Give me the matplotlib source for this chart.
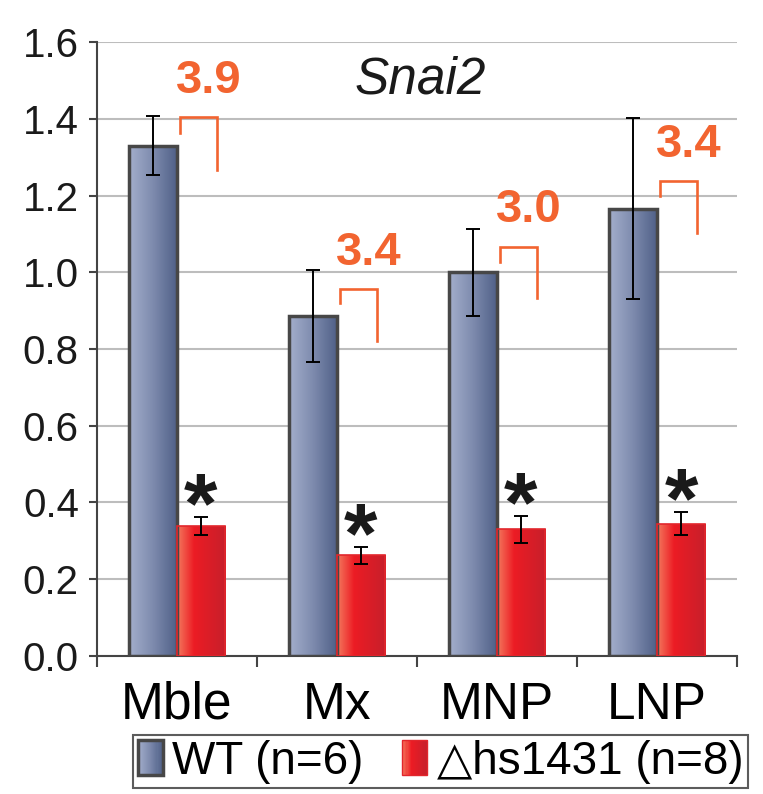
import numpy as np
import matplotlib
matplotlib.use("Agg")
import matplotlib.pyplot as plt
from matplotlib.colors import LinearSegmentedColormap
from matplotlib.patches import Patch, Rectangle
from matplotlib.legend_handler import HandlerBase

plt.rcParams['font.family'] = ['Liberation Sans', 'DejaVu Sans']

# Snai2 expression, WT vs deletion
categories = ['Mble', 'Mx', 'MNP', 'LNP']
wt_mean = [1.33, 0.885, 1.0, 1.165]
wt_err = [0.077, 0.12, 0.113, 0.236]
ko_mean = [0.338, 0.262, 0.33, 0.345]
ko_err = [0.024, 0.022, 0.035, 0.03]
fold_labels = ['3.9', '3.4', '3.0', '3.4']
bracket_top = [1.404, 0.956, 1.067, 1.237]
bracket_left_end = [1.363, 0.919, 1.028, 1.200]
bracket_right_end = [1.266, 0.821, 0.932, 1.103]
legend_labels = ['WT (n=6)', '\u25B3hs1431 (n=8)']

orange = '#F26430'
wt_cmap = LinearSegmentedColormap.from_list('wt', ['#A4AFCC', '#7D8AAD', '#4E5F86'])
ko_cmap = LinearSegmentedColormap.from_list('ko', [(0, '#F47A5E'), (0.35, '#EC1C24'), (1, '#C71F2B')])
wt_edge, ko_edge = '#474747', '#E2262C'

fig = plt.figure(figsize=(7.63, 7.94), dpi=100)
ax = fig.add_axes([0.127, 0.174, 0.839, 0.773])

x = np.arange(len(categories))
w = 0.3
wt_bars = ax.bar(x - w / 2, wt_mean, w, facecolor='none', edgecolor=wt_edge, linewidth=2.5, zorder=3)
ko_bars = ax.bar(x + w / 2, ko_mean, w, facecolor='none', edgecolor=ko_edge, linewidth=1.2, zorder=3)


def fill_gradient(bars, cmap):
    grad = np.linspace(0, 1, 256).reshape(1, -1)
    for b in bars:
        x0, y0 = b.get_x(), b.get_y()
        im = ax.imshow(grad, cmap=cmap, aspect='auto', interpolation='bicubic',
                       extent=(x0, x0 + b.get_width(), y0, y0 + b.get_height()), zorder=2.9)
        im.set_clip_path(b)


fill_gradient(wt_bars, wt_cmap)
fill_gradient(ko_bars, ko_cmap)

ax.errorbar(x - w / 2, wt_mean, yerr=wt_err, fmt='none', ecolor='black', elinewidth=1.4,
            capsize=5, capthick=1.4, zorder=4)
ax.errorbar(x + w / 2, ko_mean, yerr=ko_err, fmt='none', ecolor='black', elinewidth=1.4,
            capsize=5, capthick=1.4, zorder=4)

# significance stars above the deletion bars
for i in range(len(categories)):
    ax.annotate('*', (x[i] + w / 2, ko_mean[i] + ko_err[i]), xytext=(0, -24), textcoords='offset points',
                ha='center', va='bottom', fontsize=62, fontweight='bold', color='#1a1a1a', zorder=5)

# fold-change brackets
for i in range(len(categories)):
    xl, xr = x[i] + 0.02, x[i] + 0.25
    ax.plot([xl, xl, xr, xr], [bracket_left_end[i], bracket_top[i], bracket_top[i], bracket_right_end[i]],
            color=orange, lw=1.9, zorder=5, solid_joinstyle='miter')
    ax.text(x[i] + 0.2, bracket_top[i] + 0.095, fold_labels[i], ha='center', va='center',
            fontsize=34, fontweight='bold', color=orange, zorder=5)

ax.text(1.52, 1.5, 'Snai2', ha='center', va='center', fontsize=37, style='italic', color='#1a1a1a')

ax.set_xlim(-0.5, 3.5)
ax.set_ylim(0, 1.6)
ax.set_yticks(np.arange(0, 1.61, 0.2))
ax.set_yticklabels(['%.1f' % v for v in np.arange(0, 1.61, 0.2)])
ax.set_xticks(x)
ax.set_xticklabels(categories)
ax.set_xticks(np.arange(-0.5, 3.6, 1), minor=True)
ax.tick_params(axis='y', direction='out', length=6, width=1.5, color='#444444', labelsize=29, pad=7,
               labelcolor='#1a1a1a')
ax.tick_params(axis='x', which='major', length=0, labelsize=37, pad=18)
ax.tick_params(axis='x', which='minor', direction='out', length=8, width=1.5, color='#444444')
ax.yaxis.grid(True, color='#BDBDBD', lw=1.5, zorder=0)
ax.set_axisbelow(True)
for s in ['top', 'right']:
    ax.spines[s].set_visible(False)
for s in ['left', 'bottom']:
    ax.spines[s].set_color('#444444')
    ax.spines[s].set_linewidth(1.5)


class GradientHandler(HandlerBase):
    def __init__(self, cmap, edge, lw):
        super().__init__()
        self.cmap, self.edge, self.lw = cmap, edge, lw

    def create_artists(self, legend, orig_handle, xdescent, ydescent, width, height, fontsize, trans):
        n = 24
        arts = []
        for k in range(n):
            arts.append(Rectangle((-xdescent + width * k / n, -ydescent), width / n + 0.3, height,
                                  facecolor=self.cmap((k + 0.5) / n), edgecolor='none', transform=trans))
        arts.append(Rectangle((-xdescent, -ydescent), width, height, facecolor='none',
                              edgecolor=self.edge, linewidth=self.lw, transform=trans))
        return arts


h_wt = Patch()
h_ko = Patch()
leg = fig.legend([h_wt, h_ko], legend_labels, loc='upper left', bbox_to_anchor=(0.1743, 0.0743),
                 ncol=2, fontsize=33, frameon=True, fancybox=False, edgecolor='#333333',
                 handlelength=0.55, handleheight=0.8, handletextpad=0.2, columnspacing=0.85, borderpad=0.1,
                 borderaxespad=0,
                 handler_map={h_wt: GradientHandler(wt_cmap, wt_edge, 2.5),
                              h_ko: GradientHandler(ko_cmap, ko_edge, 1.0)})
leg.get_frame().set_linewidth(1.5)

fig.savefig('out.png', dpi=100)
